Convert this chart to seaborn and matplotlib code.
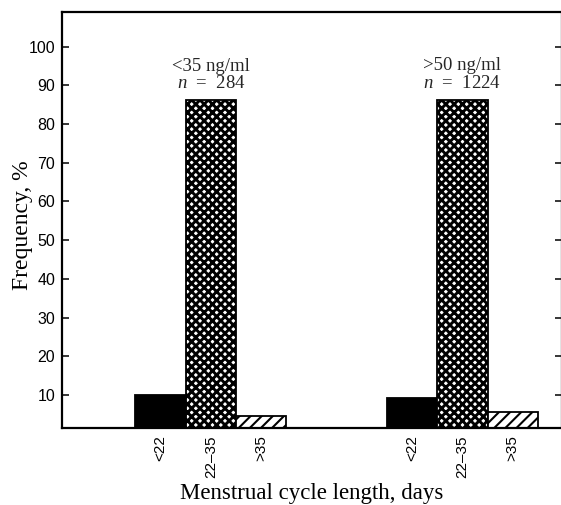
import matplotlib
matplotlib.use("Agg")
import matplotlib.pyplot as plt
import seaborn as sns
import pandas as pd

# ---- data ----
groups = ["<35 ng/ml", ">50 ng/ml"]
group_n = [284, 1224]
cycle_lengths = ["<22", "22\u201335", ">35"]
freq_low = [10.0, 86.2, 4.6]     # <35 ng/ml
freq_high = [9.3, 86.3, 5.5]     # >50 ng/ml
y_ticks = [10, 20, 30, 40, 50, 60, 70, 80, 90, 100]

df = pd.DataFrame({
    "group": [g for g in groups for _ in cycle_lengths],
    "cycle": cycle_lengths * len(groups),
    "freq": freq_low + freq_high,
})

sns.set_theme(style="white")
plt.rcParams["font.family"] = ["Liberation Serif", "DejaVu Serif"]
plt.rcParams["mathtext.fontset"] = "custom"
plt.rcParams["mathtext.it"] = "Liberation Serif:italic"
plt.rcParams["mathtext.rm"] = "Liberation Serif"
plt.rcParams["hatch.color"] = "black"

fig = plt.figure(figsize=(5.61, 5.05), dpi=100)
ax = fig.add_axes([62 / 561, 1 - 428.3 / 505, 500 / 561, (428.3 - 12.5) / 505])

sns.barplot(data=df, x="group", y="freq", hue="cycle", order=groups,
            hue_order=cycle_lengths, width=0.6, gap=0, dodge=True,
            palette=["black", "white", "white"], edgecolor="black",
            linewidth=1.3, legend=False, ax=ax, errorbar=None, saturation=1)

styles = [("black", None, 1.0), ("white", "xxxx", 2.1), ("white", "///", 1.5)]
tick_pos, tick_lab = [], []
for cont, (fc, hatch, hlw) in zip(ax.containers, styles):
    for bar in cont:
        bar.set_facecolor(fc)
        bar.set_edgecolor("black")
        if hatch:
            bar.set_hatch(hatch)
            if hasattr(bar, "set_hatch_linewidth"):
                bar.set_hatch_linewidth(hlw)
for cont, lab in zip(ax.containers, cycle_lengths):
    for bar in cont:
        tick_pos.append(bar.get_x() + bar.get_width() / 2)
        tick_lab.append(lab)

# annotations above the middle bars
for i, (g, n) in enumerate(zip(groups, group_n)):
    mid = ax.containers[1][i]
    cx = mid.get_x() + mid.get_width() / 2
    ax.text(cx, mid.get_height() + 2.0, f"{g}\n$n$  =  {n}", ha="center",
            va="bottom", fontsize=13.5, linespacing=1.05)

ax.set_xlim(-0.592, 1.396)
ax.set_ylim(1.4, 108.8)
ax.set_yticks(y_ticks)
ax.set_yticklabels([str(t) for t in y_ticks], family=["Liberation Sans"], fontsize=11.5)
ax.set_xticks(tick_pos)
ax.set_xticklabels(tick_lab, rotation=90, va="top", ha="center",
                   family=["Liberation Sans"], fontsize=11)
ax.tick_params(axis="y", which="both", direction="in", length=5, width=1.1,
               left=True, right=True, labelleft=True, labelright=False, pad=5,
               colors="black")
ax.tick_params(axis="x", length=0, pad=5, colors="black")

for s in ax.spines.values():
    s.set_visible(True)
    s.set_color("black")
    s.set_linewidth(1.6)

ax.set_xlabel("Menstrual cycle length, days", fontsize=16.5, color="black", va="top")
ax.xaxis.set_label_coords(0.5, (428.3 - 483) / 415.8)
ax.set_ylabel("Frequency, %", fontsize=17, color="black")
ax.yaxis.set_label_coords((33 - 62) / 500, (428.3 - 225) / 415.8)
ax.grid(False)

fig.savefig("out.png", dpi=100)
